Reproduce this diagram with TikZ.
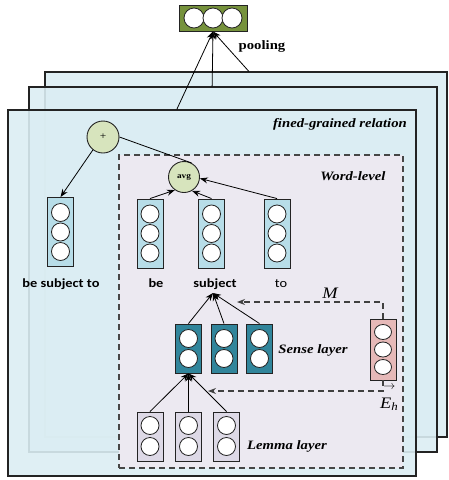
\documentclass[tikz,border=0pt]{standalone}
\usepackage{fontspec}
\setmainfont{Liberation Serif}[FakeStretch=1.15]
\newfontfamily\calfont{Carlito}[FakeStretch=1.15]
\usetikzlibrary{arrows.meta,calc}
\definecolor{cpanel}{RGB}{219,237,243}
\definecolor{clav}{RGB}{236,233,241}
\definecolor{cword}{RGB}{183,221,232}
\definecolor{cteal}{RGB}{49,133,155}
\definecolor{cpink}{RGB}{230,185,184}
\definecolor{clemma}{RGB}{221,217,230}
\definecolor{colive}{RGB}{118,146,60}
\definecolor{cpale}{RGB}{215,228,189}
\definecolor{cdk}{RGB}{35,35,35}
\definecolor{cdash}{RGB}{70,70,70}
\newcommand\mycells[3]{\foreach \d in {#2} {\draw[cell] (#1.center) ++(0,\d) circle[radius=#3];}}
\tikzset{
  panel/.style={draw=cdk,line width=1.3pt,fill=cpanel,fill opacity=0.9,draw opacity=1,inner sep=0,anchor=center},
  box/.style={draw=cdk,line width=0.9pt,inner sep=0,minimum width=26pt},
  wbox/.style={box,fill=cword,minimum height=69pt},
  sbox/.style={box,fill=cteal,minimum height=49pt},
  lbox/.style={box,fill=clemma,minimum height=49pt},
  cell/.style={draw=cdk,line width=0.8pt,fill=white},
  opcirc/.style={circle,draw=cdk,line width=0.9pt,fill=cpale,inner sep=0},
  arr/.style={-{Stealth[length=8pt,width=6pt]},line width=0.8pt,black},
  dsh/.style={draw=cdash,line width=1.2pt,dash pattern=on 6pt off 4pt},
  lab/.style={font=\fontsize{12.8}{14}\selectfont\bfseries\itshape,inner sep=0},
  wlab/.style={font=\calfont\fontsize{12.5}{14}\selectfont,inner sep=0,anchor=base},
}
\begin{document}
\begin{tikzpicture}[x=1pt,y=-1pt]
\useasboundingbox (0,0) rectangle (448,480);
% panels
\node[panel,minimum width=402pt,minimum height=365pt] (p3) at (246,254.5) {};
\node[panel,minimum width=408pt,minimum height=365pt] (p2) at (233,269.5) {};
\node[panel,minimum width=408pt,minimum height=366pt] (p1) at (212,293) {};
% dashed word-level box
\node[dsh,fill=clav,minimum width=284pt,minimum height=313pt,inner sep=0] (dbox) at (261,311.5) {};
% pooling box
\node[draw=cdk,line width=1pt,fill=colive,minimum width=68pt,minimum height=26pt,inner sep=0] (pool) at (213,18) {};
\foreach \d in {-19,0,19} {\draw[cell] (pool.center) ++(\d,0) circle[radius=10pt];}
\node[font=\fontsize{12.8}{14}\selectfont\bfseries,inner sep=0] (pooltxt) at (262,46) {pooling};
\node[lab,anchor=east] (fgr) at (407,124) {fined-grained relation};
\node[lab] (wl) at (353,176) {Word-level};
% operator circles
\node[opcirc,minimum size=32pt,font=\fontsize{10}{10}\selectfont] (plus) at (103,137) {+};
\node[opcirc,minimum size=31pt,font=\fontsize{8}{8}\selectfont\bfseries] (avg) at (184,177) {avg};
% word boxes
\node[wbox] (bst) at (60.5,232) {};
\node[wbox] (be) at (150,233.5) {};
\node[wbox] (subj) at (211.5,233.5) {};
\node[wbox] (to) at (277,233.5) {};
\foreach \b in {bst,be,subj,to} {\mycells{\b}{-19.5,0,19.5}{9pt}}
\node[wlab,font=\calfont\fontsize{12.5}{14}\selectfont\bfseries] (lbst) at (61,287) {be subject to};
\node[wlab,font=\calfont\fontsize{12.5}{14}\selectfont\bfseries] (lbe) at (156,287) {be};
\node[wlab,font=\calfont\fontsize{12.5}{14}\selectfont\bfseries] (lsubj) at (215,287) {subject};
\node[wlab] (lto) at (281,287) {to};
% sense boxes
\node[sbox] (s1) at (188.5,348.5) {};
\node[sbox] (s2) at (224,348.5) {};
\node[sbox] (s3) at (259.5,348.5) {};
\foreach \b in {s1,s2,s3} {\mycells{\b}{-10,10}{9pt}}
\node[lab] (sl) at (313,350) {Sense layer};
% lemma boxes
\node[lbox] (l1) at (150,436.5) {};
\node[lbox] (l2) at (188.5,436.5) {};
\node[lbox] (l3) at (226.5,436.5) {};
\foreach \b in {l1,l2,l3} {\mycells{\b}{-11,10}{9pt}}
\node[lab] (ll) at (287,446) {Lemma layer};
% pink box
\node[box,fill=cpink,minimum height=61pt] (pk) at (383,349.5) {};
\foreach \d in {-17.5,0,17.5} {\draw[cell] (pk.center) ++(0,\d) ellipse[x radius=8.5pt,y radius=7.5pt];}
\node[font=\fontsize{16}{16}\selectfont\itshape,inner sep=0] (mlab) at (330,293) {M};
\node[font=\fontsize{16}{16}\selectfont,inner sep=0,anchor=base west] (elab) at (380,408) {\rlap{\raisebox{1.15em}{\hspace{0.2em}\fontsize{12}{12}\selectfont$\rightarrow$}}\textit{E}\textsubscript{\textit{h}}};
% coordinates
\coordinate (subjin) at (213,293);
\coordinate (mend) at (237,302);
\coordinate (eend) at (208,391);
% connectors
\draw[arr] ($(p1.north west)!0.414!(p1.north east)$) -- (pool.south);
\draw[arr] ($(p2.north west)!0.449!(p2.north east)$) -- (pool.south);
\draw[arr] ($(p3.north west)!0.507!(p3.north east)$) -- (pool.south);
\draw[line width=0.8pt] (plus.east) -- (avg.62);
\draw[arr] (plus.232) -- (bst.north);
\draw[arr] (be.north) -- (avg.235);
\draw[arr] (subj.north) -- (avg.300);
\draw[arr] (to.north) -- (avg.-5);
\draw[arr] (s1.north) -- (subjin);
\draw[arr] (s2.north) -- (subjin);
\draw[arr] (s3.north) -- (subjin);
\draw[arr] (l1.north) -- (s1.south);
\draw[arr] (l2.north) -- (s1.south);
\draw[arr] (l3.north) -- (s1.south);
\draw[dsh,-{Stealth[length=8pt,width=6pt]},black!75] (pk.north) |- (mend);
\draw[dsh,-{Stealth[length=8pt,width=6pt]},black!75] (pk.south) |- (eend);
\end{tikzpicture}
\end{document}
